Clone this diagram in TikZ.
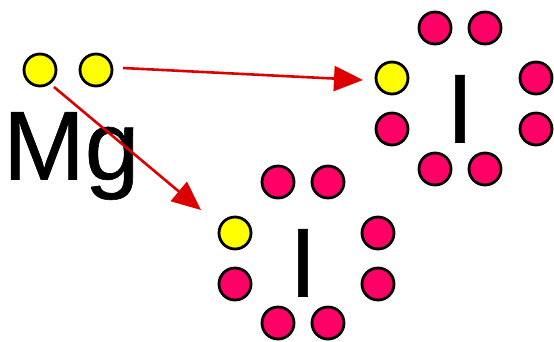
\documentclass[tikz,border=0pt]{standalone}
\usepackage{fontspec}
\setmainfont{Liberation Sans}
\newfontfamily\heavyfont[FakeBold=0.6]{Liberation Sans}
\usetikzlibrary{arrows.meta}
\definecolor{dotpink}{HTML}{FF0066}
\definecolor{dotyellow}{HTML}{FFFF00}
\definecolor{arrowred}{HTML}{DD0000}
\tikzset{
  dot/.style={circle,draw=black,line width=2.8pt,minimum size=32pt,inner sep=0pt},
  pinkdot/.style={dot,fill=dotpink},
  yellowdot/.style={dot,fill=dotyellow},
  bigtext/.style={font=\heavyfont\fontsize{98}{98}\selectfont,inner sep=0pt,text=black},
  redarrow/.style={draw=arrowred,line width=2.6pt,-{Triangle[length=29pt,width=25pt,color=arrowred]}}
}
\begin{document}
\begin{tikzpicture}[x=1pt,y=-1pt]
\useasboundingbox (0,0) rectangle (554,341);
% Mg
\node[yellowdot] (m1) at (40,70) {};
\node[yellowdot] (m2) at (96,70) {};
\node[bigtext,anchor=base west] (mg) at (3,179.5) {Mg};
% first I
\node[bigtext,anchor=base] (i1) at (460,142.5) {I};
\node[pinkdot] (a1) at (435,28) {};
\node[pinkdot] (a2) at (485,28) {};
\node[yellowdot] (a3) at (392,78) {};
\node[pinkdot] (a4) at (392,129) {};
\node[pinkdot] (a5) at (536,78) {};
\node[pinkdot] (a6) at (536,129) {};
\node[pinkdot] (a7) at (435,169) {};
\node[pinkdot] (a8) at (485,169) {};
% second I
\node[bigtext,anchor=base] (i2) at (303,296.5) {I};
\node[pinkdot] (b1) at (278,182) {};
\node[pinkdot] (b2) at (328,182) {};
\node[yellowdot] (b3) at (235,233) {};
\node[pinkdot] (b4) at (235,284) {};
\node[pinkdot] (b5) at (378,233) {};
\node[pinkdot] (b6) at (378,284) {};
\node[pinkdot] (b7) at (278,323) {};
\node[pinkdot] (b8) at (328,323) {};
% arrows
\coordinate (s1) at (123,68);
\coordinate (e1) at (363,80);
\coordinate (s2) at (54,87);
\coordinate (e2) at (201,210);
\draw[redarrow] (s1) -- (e1);
\draw[redarrow] (s2) -- (e2);
\end{tikzpicture}
\end{document}
